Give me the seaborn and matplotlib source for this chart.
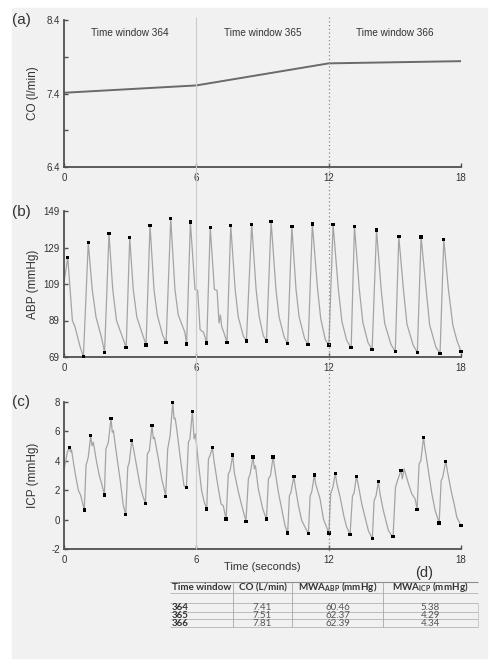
import matplotlib
matplotlib.use("Agg")
import matplotlib.pyplot as plt
from matplotlib.patches import Rectangle
import seaborn as sns
import pandas as pd

# ---- data ----
window_ids = [364, 365, 366]
window_mid = [3, 9, 15]
window_edges = [6, 12]

co_t = [0, 6, 12, 18]
co_v = [7.41, 7.51, 7.81, 7.84]

abp_peak_t = [0.17, 1.10, 2.04, 2.98, 3.90, 4.84, 5.73, 6.63, 7.56, 8.51,
              9.39, 10.33, 11.26, 12.20, 13.17, 14.17, 15.18, 16.19, 17.22]
abp_peak_v = [123.6, 131.6, 136.6, 134.4, 141.1, 144.8, 143.0, 140.0, 141.1, 141.7,
              143.3, 140.4, 141.9, 141.7, 140.6, 138.6, 135.0, 134.8, 133.5]
abp_trough_t = [0.88, 1.84, 2.82, 3.72, 4.63, 5.56, 6.47, 7.39, 8.27, 9.18,
                10.14, 11.07, 12.01, 13.02, 13.97, 15.02, 16.02, 17.05, 18.00]
abp_trough_v = [69.2, 71.6, 74.2, 75.6, 77.0, 76.1, 76.7, 77.0, 77.8, 77.8,
                76.3, 75.8, 75.6, 74.1, 73.1, 71.9, 71.5, 70.9, 71.9]
# dicrotic notch, knee and shelf points between the peaks and troughs
abp_shape_t = [0.00, 0.38, 0.50, 0.73, 1.28, 1.45, 1.70, 2.21, 2.38, 2.68,
               3.14, 3.30, 3.57, 4.08, 4.23, 4.47, 5.03, 5.18, 5.48,
               5.94, 6.06, 6.17, 6.33, 6.82, 6.94, 7.03, 7.09, 7.15, 7.26,
               7.76, 7.90, 8.13, 8.71, 8.85, 9.04, 9.61, 9.75, 9.98,
               10.52, 10.66, 10.91, 11.50, 11.64, 11.85, 12.44, 12.60, 12.82,
               13.39, 13.55, 13.78, 14.38, 14.54, 14.82, 15.39, 15.55, 15.83,
               16.42, 16.58, 16.86, 17.43, 17.63, 17.81]
abp_shape_v = [110.0, 89.0, 85.5, 74.6, 106.0, 91.0, 79.7, 106.0, 89.0, 78.9,
               106.0, 91.0, 81.0, 106.0, 92.0, 81.0, 106.0, 92.0, 82.5,
               106.0, 105.5, 84.0, 82.5, 106.0, 105.5, 87.6, 92.0, 85.6, 82.0,
               106.0, 91.0, 80.5, 106.0, 91.0, 80.5, 106.0, 91.0, 80.0,
               106.0, 91.0, 79.0, 106.0, 90.0, 78.5, 106.0, 88.5, 78.0,
               106.0, 88.0, 77.0, 106.0, 87.5, 76.0, 106.0, 87.0, 75.5,
               106.0, 86.5, 74.5, 106.0, 86.5, 78.3]

icp_peak_t = [0.24, 1.21, 2.13, 3.07, 3.99, 4.93, 5.82, 6.73, 7.65, 8.57,
              9.48, 10.42, 11.35, 12.30, 13.26, 14.25, 15.28, 16.30, 17.31]
icp_peak_v = [4.90, 5.71, 6.89, 5.37, 6.39, 7.96, 7.37, 4.90, 4.40, 4.26,
              4.26, 2.93, 3.04, 3.15, 2.95, 2.58, 3.36, 5.58, 3.97]
icp_trough_t = [0.92, 1.83, 2.80, 3.69, 4.61, 5.55, 6.47, 7.35, 8.25, 9.18,
                10.14, 11.08, 12.01, 12.97, 13.98, 14.92, 16.01, 17.01, 18.00]
icp_trough_v = [0.66, 1.68, 0.34, 1.11, 1.59, 2.18, 0.73, 0.04, -0.11, 0.03,
                -0.92, -0.96, -0.92, -1.00, -1.29, -1.16, 0.70, -0.22, -0.41]
icp_shape_t = [0.00, 0.15, 0.30, 0.34, 0.50, 0.65, 0.76,
               1.00, 1.10, 1.27, 1.33, 1.48, 1.60, 1.71,
               1.90, 2.01, 2.19, 2.24, 2.39, 2.54, 2.69,
               2.89, 2.96, 3.14, 3.30, 3.45, 3.57,
               3.78, 3.87, 4.05, 4.10, 4.28, 4.43, 4.54,
               4.70, 4.81, 4.99, 5.04, 5.11, 5.26, 5.38, 5.44,
               5.64, 5.71, 5.90, 5.96, 6.09, 6.24, 6.36,
               6.55, 6.62, 6.80, 7.00, 7.12, 7.22,
               7.45, 7.53, 7.72, 7.91, 8.06,
               8.36, 8.44, 8.63, 8.68, 8.81, 9.01,
               9.27, 9.36, 9.57, 9.72, 9.90, 10.02,
               10.22, 10.29, 10.48, 10.63, 10.78,
               11.16, 11.23, 11.41, 11.61, 11.76,
               12.09, 12.19, 12.38, 12.52, 12.70, 12.82,
               13.08, 13.15, 13.35, 13.50, 13.80,
               14.06, 14.15, 14.33, 14.48, 14.71, 14.82,
               15.03, 15.12, 15.34, 15.42, 15.62, 15.77, 15.92,
               16.10, 16.18, 16.37, 16.52, 16.68, 16.83,
               17.10, 17.17, 17.38, 17.58, 17.69, 17.81]
icp_shape_v = [3.40, 4.58, 4.60, 4.75, 3.20, 2.00, 1.63,
               3.70, 4.24, 5.03, 5.26, 3.90, 3.00, 2.43,
               4.80, 5.26, 5.94, 6.05, 4.35, 2.77, 0.95,
               3.56, 3.90, 4.92, 3.56, 2.31, 1.63,
               4.47, 4.69, 5.50, 5.60, 4.13, 2.77, 2.09,
               4.80, 5.71, 6.85, 6.90, 6.17, 4.35, 2.99, 2.31,
               5.26, 5.49, 5.49, 5.83, 3.90, 1.97, 1.18,
               4.13, 4.35, 4.01, 2.09, 1.07, 0.95,
               3.11, 3.33, 3.22, 1.86, 0.95,
               2.77, 3.11, 3.45, 3.67, 2.09, 0.73,
               2.77, 2.99, 3.33, 1.86, 0.50, -0.41,
               1.63, 1.86, 2.31, 0.95, -0.07,
               1.63, 1.86, 2.43, 1.41, 0.05,
               1.75, 2.20, 2.38, 1.52, 0.16, -0.52,
               1.63, 1.79, 2.31, 1.07, -0.75,
               1.29, 1.63, 1.75, 0.61, -0.75, -1.00,
               2.20, 2.65, 2.77, 3.45, 2.43, 1.75, 1.41,
               3.79, 4.01, 4.81, 3.33, 1.75, 0.61,
               2.65, 2.88, 3.33, 1.75, 1.07, 0.16]

table_co = [7.41, 7.51, 7.81]
table_mwa_abp = [60.46, 62.37, 62.39]
table_mwa_icp = [5.38, 4.29, 4.34]

W, H = 491, 661
SPINE = "#505050"
TXT = "#333333"


def box(left, top, right, bottom):
    return [left / W, 1 - bottom / H, (right - left) / W, (bottom - top) / H]


def trace(pt, pv, tt, tv, st, sv):
    df = pd.DataFrame({"t": pt + tt + st, "v": pv + tv + sv})
    return df.sort_values("t")


def style_axes(ax, yticks, ylabels):
    ax.set_facecolor("none")
    sns.despine(ax=ax)
    for s in ("left", "bottom"):
        ax.spines[s].set_color(SPINE)
        ax.spines[s].set_linewidth(1.3)
    ax.set_xlim(0, 18)
    ax.set_xticks([0, 6, 12, 18])
    ax.set_yticks(yticks)
    ax.set_yticklabels(ylabels)
    ax.set_ylim(yticks[0], yticks[-1])
    ax.tick_params(direction="in", length=3, width=1, color=SPINE,
                   labelsize=7, labelcolor=TXT)
    ax.tick_params(axis="x", pad=4)
    ax.tick_params(axis="y", pad=3)
    ax.set_xlabel("")
    ax.set_ylabel("")


sns.set_style("ticks")
plt.rcParams["font.family"] = ["Liberation Sans", "DejaVu Sans"]
plt.rcParams["axes.unicode_minus"] = False
plt.rcParams["mathtext.fontset"] = "custom"
plt.rcParams["mathtext.rm"] = "Lato"
plt.rcParams["mathtext.bf"] = "Lato:bold"

fig = plt.figure(figsize=(W / 100, H / 100), dpi=100)
fig.add_artist(Rectangle((12 / W, 1 - 658 / H), 475 / W, 650 / H,
                         transform=fig.transFigure, color="#f1f1f1", zorder=-10))

# (a) cardiac output
ax_a = fig.add_axes(box(64, 20, 461, 167))
sns.lineplot(x=co_t, y=co_v, ax=ax_a, color="#6a6a6a", linewidth=1.4)
style_axes(ax_a, [6.4, 6.9, 7.4, 7.9, 8.4], ["6.4", "", "7.4", "", "8.4"])
for m, w in zip(window_mid, window_ids):
    ax_a.text(m, 8.22, f"Time window {w}", ha="center", va="center",
              fontsize=7.2, color=TXT)

# (b) ABP
ax_b = fig.add_axes(box(64, 211, 461, 357))
abp = trace(abp_peak_t, abp_peak_v, abp_trough_t, abp_trough_v, abp_shape_t, abp_shape_v)
sns.lineplot(data=abp, x="t", y="v", ax=ax_b, estimator=None, sort=False,
             color="#a4a4a4", linewidth=0.9)
abp_marks = pd.DataFrame({"t": abp_peak_t + abp_trough_t, "v": abp_peak_v + abp_trough_v})
sns.scatterplot(data=abp_marks, x="t", y="v", ax=ax_b, marker="s", s=6,
                color="black", edgecolor="none", clip_on=False, zorder=5)
style_axes(ax_b, [69, 89, 109, 129, 149], ["69", "89", "109", "129", "149"])

# (c) ICP
ax_c = fig.add_axes(box(64, 402, 461, 549))
icp = trace(icp_peak_t, icp_peak_v, icp_trough_t, icp_trough_v, icp_shape_t, icp_shape_v)
sns.lineplot(data=icp, x="t", y="v", ax=ax_c, estimator=None, sort=False,
             color="#a4a4a4", linewidth=0.9)
icp_marks = pd.DataFrame({"t": icp_peak_t + icp_trough_t, "v": icp_peak_v + icp_trough_v})
sns.scatterplot(data=icp_marks, x="t", y="v", ax=ax_c, marker="s", s=6,
                color="black", edgecolor="none", clip_on=False, zorder=5)
style_axes(ax_c, [-2, 0, 2, 4, 6, 8], ["-2", "0", "2", "4", "6", "8"])

# window boundaries drawn through all three panels
ax_ov = fig.add_axes(box(64, 0, 461, H))
ax_ov.set_xlim(0, 18)
ax_ov.set_ylim(H, 0)
ax_ov.axis("off")
ax_ov.vlines(window_edges[0], 17, 549, color="#cccccc", linewidth=0.8)
ax_ov.vlines(window_edges[1], 17, 551, color="#8a8a8a", linewidth=0.9,
             linestyles=(0, (1, 2)))

# labels
for y, name in [(93, "CO (l/min)"), (284, "ABP (mmHg)"), (475, "ICP (mmHg)")]:
    fig.text(33 / W, 1 - y / H, name, rotation=90, ha="center", va="center",
             fontsize=8.5, color=TXT)
for y, lab in [(20, "(a)"), (212, "(b)"), (402, "(c)")]:
    fig.text(21 / W, 1 - y / H, lab, ha="center", va="center", fontsize=11, color=TXT)
fig.text(262 / W, 1 - 567 / H, "Time (seconds)", ha="center", va="center",
         fontsize=8, color=TXT)
fig.text(424 / W, 1 - 573 / H, "(d)", ha="center", va="center", fontsize=10.5, color=TXT)

# (d) table
ax_t = fig.add_axes([0, 0, 1, 1])
ax_t.set_xlim(0, W)
ax_t.set_ylim(H, 0)
ax_t.axis("off")
col_edges = [170, 233, 292, 383, 478]
col_mid = [(a + b) / 2 for a, b in zip(col_edges[:-1], col_edges[1:])]
ax_t.hlines(582, col_edges[0], col_edges[-1], color="#8c8c8c", linewidth=0.8)
ax_t.hlines([593, 603, 611.5, 619, 627], col_edges[0], col_edges[-1],
            color="#b4b4b4", linewidth=0.6)
ax_t.vlines(col_edges[1:-1], 582, 627, color="#a8a8a8", linewidth=0.6)
ax_t.vlines(col_edges[-1], 603, 627, color="#c4c4c4", linewidth=0.6)
headers = ["Time window", "CO (L/min)", r"MWA$_{\mathbf{ABP}}$ (mmHg)",
           r"MWA$_{\mathbf{ICP}}$ (mmHg)"]
hkw = dict(va="center", fontsize=7.1, fontweight="bold", family="Lato", color=TXT)
ax_t.text(172, 587.5, headers[0], ha="left", **hkw)
for x, h in zip(col_mid[1:], headers[1:]):
    ax_t.text(x, 587.5, h, ha="center", **hkw)
row_y = [607.5, 615.5, 623]
for y, w, c, a, i in zip(row_y, window_ids, table_co, table_mwa_abp, table_mwa_icp):
    ax_t.text(172, y, str(w), ha="left", va="center", fontsize=7,
              fontweight="bold", family="Lato", color=TXT)
    for x, val in zip(col_mid[1:], [c, a, i]):
        ax_t.text(x, y, f"{val:.2f}", ha="center", va="center", fontsize=7,
                  family="Lato", color="#555555")

fig.savefig("out.png", dpi=100, facecolor="white")
